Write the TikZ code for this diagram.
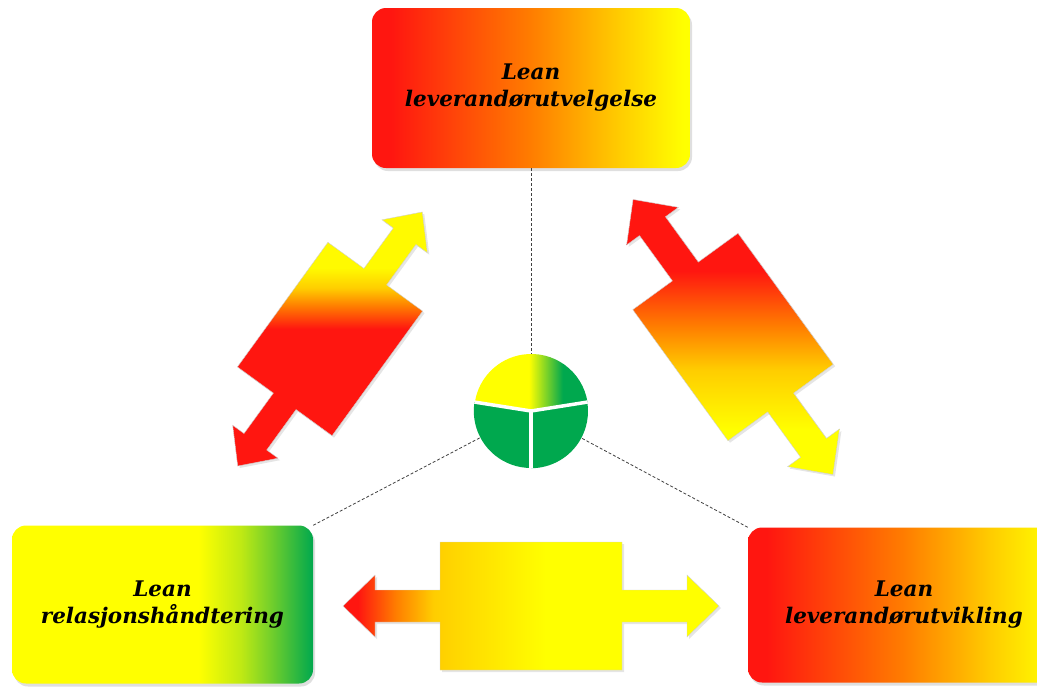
\documentclass[tikz,border=0pt]{standalone}
\usepackage{fontspec}
\newfontfamily\leanfont{DejaVu Serif}
\usetikzlibrary{shadows}

\definecolor{leanred}{RGB}{255,22,16}
\definecolor{leanorange}{RGB}{255,125,0}
\definecolor{leangold}{RGB}{255,205,0}
\definecolor{leanyellow}{RGB}{255,255,0}
\definecolor{leangreen}{RGB}{0,168,78}

\pgfdeclarehorizontalshading{redtoyellow}{100bp}{color(0bp)=(leanred); color(28bp)=(leanred); color(50bp)=(leanorange); color(64bp)=(leangold); color(74bp)=(leanyellow); color(100bp)=(leanyellow)}
\pgfdeclarehorizontalshading{yellowtogreen}{100bp}{color(0bp)=(leanyellow); color(56bp)=(leanyellow); color(63bp)=(leanyellow!75!leangreen); color(68bp)=(leanyellow!45!leangreen); color(75bp)=(leangreen); color(100bp)=(leangreen)}
\pgfdeclarehorizontalshading{piecap}{100bp}{color(0bp)=(leanyellow); color(49bp)=(leanyellow); color(64bp)=(leangreen); color(100bp)=(leangreen)}
\pgfdeclarehorizontalshading{bottomflow}{100bp}{color(0bp)=(leanred); color(27bp)=(leanred); color(32bp)=(leanorange); color(37bp)=(leangold); color(52bp)=(leanyellow); color(100bp)=(leanyellow)}
\pgfdeclareverticalshading{leftflow}{100bp}{color(0bp)=(leanred); color(52bp)=(leanred); color(56.5bp)=(leanorange); color(60bp)=(leangold); color(64bp)=(leanyellow!90!leangold); color(100bp)=(leanyellow!90!leangold)}
\pgfdeclareverticalshading{rightflow}{100bp}{color(0bp)=(leanyellow); color(33bp)=(leanyellow); color(44bp)=(leangold); color(52bp)=(leanorange); color(62bp)=(leanred); color(100bp)=(leanred)}

% #1 centre, #2 angle, #3/#4 half body, #5 tip, #6 shaft, #7 head, #8 head length, #9 shading
\newcommand{\flowarrow}[9]{%
\begin{scope}[shift={#1},rotate=#2]
\shade[flow,shading=#9] (#5,0) -- (#5-#8,#7) -- (#5-#8,#6) -- (#3,#6) -- (#3,#4) -- (-#3,#4) -- (-#3,#6) -- (-#5+#8,#6) -- (-#5+#8,#7) -- (-#5,0) -- (-#5+#8,-#7) -- (-#5+#8,-#6) -- (-#3,-#6) -- (-#3,-#4) -- (#3,-#4) -- (#3,-#6) -- (#5-#8,-#6) -- (#5-#8,-#7) -- cycle;
\end{scope}}

\begin{document}
\begin{tikzpicture}[x=1pt,y=-1pt,
  leanbox/.style={rounded corners=14pt, shade, align=center, inner sep=0pt,
    font=\leanfont\bfseries\itshape\fontsize{21.5}{27}\selectfont,
    drop shadow={opacity=.25, shadow xshift=2pt, shadow yshift=-3pt}},
  flow/.style={draw=black!18, line width=.4pt,
    drop shadow={opacity=.2, shadow xshift=2pt, shadow yshift=-2pt}},
  link/.style={draw=black!75, dash pattern=on 3pt off 2pt, line width=.8pt}]
\path[use as bounding box, fill=white] (0,0) rectangle (1037,686);

% boxes
\node[leanbox, shading=redtoyellow, minimum width=318pt, minimum height=160pt] (select) at (531,88) {Lean\\leverandørutvelgelse};
\node[leanbox, shading=yellowtogreen, minimum width=301pt, minimum height=158pt] (relation) at (162.5,604.5) {Lean\\relasjonshåndtering};
\node[leanbox, shading=redtoyellow, minimum width=312pt, minimum height=155pt] (develop) at (904,605) {Lean\\leverandørutvikling};

% hub
\node[circle, minimum size=114pt, inner sep=0pt] (hub) at (531,411) {};
\shade[shading=piecap] (hub.center) -- (hub.9) arc[start angle=9, end angle=171, radius=57pt] -- cycle;
\fill[leangreen] (hub.center) -- (hub.171) arc[start angle=171, end angle=270, radius=57pt] -- cycle;
\fill[leangreen] (hub.center) -- (hub.270) arc[start angle=270, end angle=369, radius=57pt] -- cycle;
\foreach \a in {9,171,270}
  \draw[white, line width=3.5pt] (hub.center) -- (hub.\a);

% links
\draw[link] (select.south) -- (hub.north);
\draw[link] (relation.north east) -- (hub);
\draw[link] (develop.north west) -- (hub);

% arrows
\flowarrow{(330,339)}{54}{77}{58.5}{157}{14}{28}{30}{leftflow}
\flowarrow{(733,337)}{-54}{81}{65}{170}{16}{32}{33}{rightflow}
\flowarrow{(531,606)}{0}{91}{64}{188}{16}{31}{32}{bottomflow}
\end{tikzpicture}
\end{document}
